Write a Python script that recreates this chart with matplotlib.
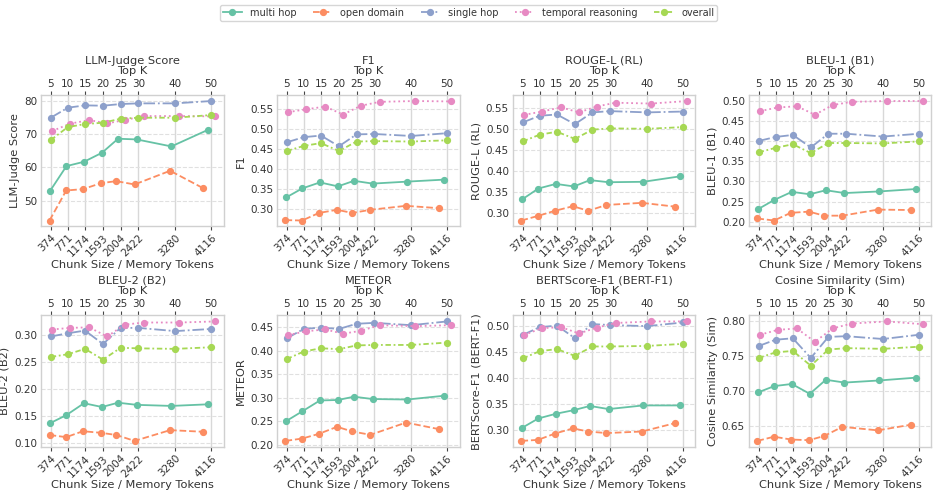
import numpy as np
import matplotlib
matplotlib.use("Agg")
import matplotlib.pyplot as plt
from matplotlib.ticker import MultipleLocator, FormatStrFormatter

# Top K and the mean memory tokens per category (x positions on a token scale)
top_k = [5, 10, 15, 20, 25, 30, 40, 50]
chunk_tokens = [374, 771, 1174, 1593, 2004, 2422, 3280, 4116]

categories = ["multi hop", "open domain", "single hop", "temporal reasoning", "overall"]
tokens = {
    "multi hop": [360, 740, 1150, 1570, 1945, 2380, 3190, 4050],
    "open domain": [345, 735, 1125, 1550, 1905, 2330, 3160, 3930],
    "single hop": [374, 771, 1174, 1593, 2004, 2422, 3280, 4116],
    "temporal reasoning": [405, 820, 1270, 1690, 2100, 2545, 3370, 4215],
    "overall": [374, 771, 1174, 1593, 2004, 2422, 3280, 4116],
}

metrics = ["LLM-Judge Score", "F1", "ROUGE-L (RL)", "BLEU-1 (B1)",
           "BLEU-2 (B2)", "METEOR", "BERTScore-F1 (BERT-F1)", "Cosine Similarity (Sim)"]

llm_judge = {
    "multi hop": [53.0, 60.4, 61.7, 64.4, 68.6, 68.4, 66.3, 71.3],
    "open domain": [44.1, 53.1, 53.5, 55.3, 55.9, 54.9, 59.0, 53.8],
    "single hop": [74.9, 77.9, 78.6, 78.5, 79.0, 79.2, 79.2, 79.9],
    "temporal reasoning": [70.9, 73.1, 74.2, 73.2, 74.2, 75.4, 75.4, 75.3],
    "overall": [68.2, 72.1, 73.0, 73.4, 74.6, 74.9, 74.9, 75.7],
}
f1 = {
    "multi hop": [0.328, 0.351, 0.366, 0.356, 0.370, 0.363, 0.368, 0.373],
    "open domain": [0.271, 0.270, 0.289, 0.297, 0.289, 0.297, 0.307, 0.301],
    "single hop": [0.467, 0.480, 0.484, 0.457, 0.487, 0.488, 0.483, 0.490],
    "temporal reasoning": [0.543, 0.550, 0.557, 0.537, 0.559, 0.569, 0.571, 0.570],
    "overall": [0.445, 0.458, 0.465, 0.445, 0.469, 0.470, 0.469, 0.472],
}
rouge_l = {
    "multi hop": [0.333, 0.359, 0.370, 0.364, 0.379, 0.374, 0.375, 0.388],
    "open domain": [0.283, 0.294, 0.306, 0.317, 0.306, 0.320, 0.325, 0.316],
    "single hop": [0.516, 0.532, 0.535, 0.512, 0.540, 0.543, 0.540, 0.542],
    "temporal reasoning": [0.534, 0.542, 0.552, 0.540, 0.554, 0.563, 0.561, 0.567],
    "overall": [0.471, 0.487, 0.494, 0.477, 0.499, 0.502, 0.501, 0.505],
}
bleu_1 = {
    "multi hop": [0.231, 0.254, 0.274, 0.268, 0.278, 0.271, 0.275, 0.281],
    "open domain": [0.208, 0.203, 0.222, 0.225, 0.215, 0.215, 0.230, 0.229],
    "single hop": [0.400, 0.410, 0.415, 0.384, 0.418, 0.418, 0.411, 0.418],
    "temporal reasoning": [0.474, 0.483, 0.486, 0.465, 0.489, 0.497, 0.499, 0.499],
    "overall": [0.372, 0.383, 0.392, 0.370, 0.395, 0.395, 0.394, 0.399],
}
bleu_2 = {
    "multi hop": [0.137, 0.152, 0.174, 0.167, 0.175, 0.171, 0.169, 0.172],
    "open domain": [0.115, 0.111, 0.122, 0.119, 0.115, 0.104, 0.124, 0.121],
    "single hop": [0.298, 0.304, 0.309, 0.284, 0.314, 0.314, 0.308, 0.312],
    "temporal reasoning": [0.311, 0.314, 0.315, 0.298, 0.320, 0.324, 0.324, 0.326],
    "overall": [0.260, 0.265, 0.275, 0.255, 0.277, 0.276, 0.275, 0.278],
}
meteor = {
    "multi hop": [0.250, 0.271, 0.294, 0.295, 0.302, 0.297, 0.296, 0.304],
    "open domain": [0.208, 0.213, 0.223, 0.238, 0.228, 0.221, 0.247, 0.233],
    "single hop": [0.426, 0.446, 0.449, 0.446, 0.457, 0.459, 0.454, 0.462],
    "temporal reasoning": [0.433, 0.441, 0.445, 0.436, 0.442, 0.454, 0.452, 0.454],
    "overall": [0.382, 0.398, 0.405, 0.403, 0.411, 0.412, 0.412, 0.417],
}
bert_f1 = {
    "multi hop": [0.304, 0.322, 0.331, 0.338, 0.346, 0.340, 0.347, 0.347],
    "open domain": [0.279, 0.281, 0.293, 0.303, 0.297, 0.294, 0.297, 0.313],
    "single hop": [0.482, 0.497, 0.500, 0.476, 0.503, 0.501, 0.499, 0.506],
    "temporal reasoning": [0.482, 0.495, 0.497, 0.485, 0.496, 0.505, 0.508, 0.508],
    "overall": [0.437, 0.451, 0.455, 0.442, 0.460, 0.460, 0.461, 0.465],
}
cos_sim = {
    "multi hop": [0.698, 0.707, 0.710, 0.696, 0.716, 0.712, 0.715, 0.719],
    "open domain": [0.629, 0.635, 0.631, 0.630, 0.636, 0.649, 0.644, 0.652],
    "single hop": [0.764, 0.773, 0.775, 0.747, 0.777, 0.778, 0.774, 0.780],
    "temporal reasoning": [0.780, 0.787, 0.789, 0.770, 0.789, 0.796, 0.799, 0.795],
    "overall": [0.747, 0.755, 0.757, 0.736, 0.759, 0.761, 0.760, 0.763],
}
all_scores = [llm_judge, f1, rouge_l, bleu_1, bleu_2, meteor, bert_f1, cos_sim]

# Set2 colours and line styles per category
colors = {"multi hop": "#66c2a5", "open domain": "#fc8d62", "single hop": "#8da0cb",
          "temporal reasoning": "#e78ac3", "overall": "#a6d854"}
styles = {"multi hop": "-", "open domain": "--", "single hop": "-.",
          "temporal reasoning": ":", "overall": (0, (3, 1.5, 1, 1.5))}

text_c = "#333333"
plt.rcParams.update({
    "font.family": "DejaVu Sans",
    "font.size": 7.5,
    "text.color": text_c,
    "axes.labelcolor": text_c,
    "xtick.color": text_c,
    "ytick.color": text_c,
    "axes.edgecolor": "#d0d0d0",
    "axes.linewidth": 1.0,
})

fig, axes = plt.subplots(2, 4, figsize=(9.37, 4.9), dpi=100)
fig.subplots_adjust(left=0.044, right=0.994, bottom=0.088, top=0.806,
                    wspace=0.294, hspace=0.677)

for i, (ax, name, scores) in enumerate(zip(axes.flat, metrics, all_scores)):
    for cat in categories:
        ax.plot(tokens[cat], scores[cat], linestyle=styles[cat], color=colors[cat],
                marker="o", markersize=4.2, linewidth=1.3, label=cat)
    ax.set_xticks(chunk_tokens)
    ax.set_xticklabels([str(c) for c in chunk_tokens], rotation=45, ha="right",
                       rotation_mode="anchor")
    ax.tick_params(axis="x", length=3, color="#444444", pad=1.5, labelsize=7.5)
    ax.tick_params(axis="y", length=0, pad=3, labelsize=7.5)
    if i == 0:
        ax.yaxis.set_major_locator(MultipleLocator(10))
    else:
        ax.yaxis.set_major_locator(MultipleLocator(0.05))
        ax.yaxis.set_major_formatter(FormatStrFormatter("%.2f"))
    ax.grid(axis="x", color="#d8d8d8", linestyle="-", linewidth=1.0)
    ax.grid(axis="y", color="#e0e0e0", linestyle="--", linewidth=0.8)
    ax.set_axisbelow(True)
    ax.set_xlabel("Chunk Size / Memory Tokens", fontsize=8.2, labelpad=1)
    ax.set_ylabel(name, fontsize=8.2, labelpad=3)

    # secondary top axis carries Top K, with the metric name as a first line
    top = ax.secondary_xaxis("top")
    top.set_xticks(chunk_tokens)
    top.set_xticklabels([str(k) for k in top_k])
    top.tick_params(axis="x", length=3, color="#444444", pad=1.5, labelsize=7.5)
    top.set_xlabel(name + "\nTop K", fontsize=8.2, labelpad=3.5, linespacing=1.05)
    for sp in top.spines.values():
        sp.set_visible(False)

handles, labels = axes.flat[0].get_legend_handles_labels()
fig.legend(handles, labels, loc="upper center", ncol=5, fontsize=7,
           bbox_to_anchor=(0.5, 1.0), frameon=True, edgecolor="#cccccc",
           handlelength=2.0, columnspacing=1.7, borderpad=0.3)

fig.savefig("out.png", dpi=100)
